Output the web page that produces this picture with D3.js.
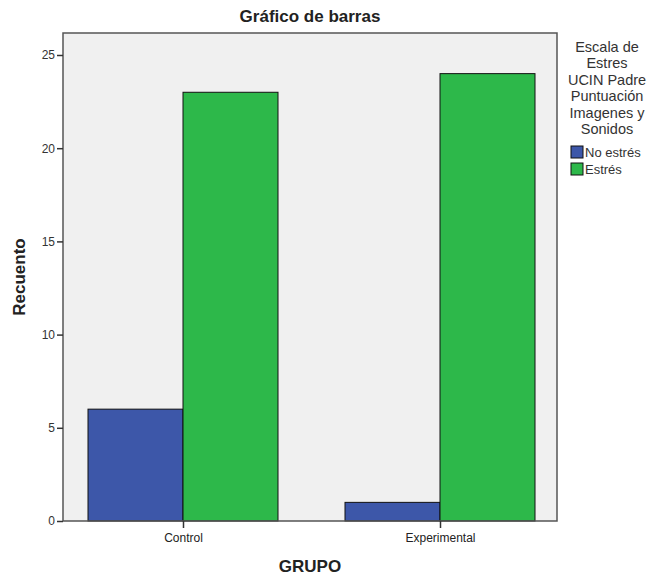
<!DOCTYPE html>
<html>
<head>
<meta charset="utf-8">
<script src="https://cdn.jsdelivr.net/npm/d3@7"></script>
<style>
  body { margin: 0; background: #fff; }
  text { font-family: "Liberation Sans", Arial, sans-serif; fill: #222; }
</style>
</head>
<body>
<script>
// data
var groups = ["Control", "Experimental"];
var keys = ["No estrés", "Estrés"];
var noEstres = [6, 1];
var estres = [23, 24];
var yTicks = [0, 5, 10, 15, 20, 25];
var legendTitle = ["Escala de", "Estres", "UCIN Padre", "Puntuación", "Imagenes y", "Sonidos"];

var colors = ["#3d57a9", "#2db84a"];

var data = groups.map(function(g, i) {
  return { group: g, values: [noEstres[i], estres[i]] };
});

var margin = {top: 33, right: 93, bottom: 56, left: 63},
    width = 650 - margin.left - margin.right,
    height = 577 - margin.top - margin.bottom;

var svg = d3.select("body").append("svg")
  .attr("width", 650)
  .attr("height", 577);

var g = svg.append("g")
  .attr("transform", "translate(" + margin.left + "," + margin.top + ")");

// scales
var x = d3.scalePoint().domain(groups).range([120, 377]);
var xSub = d3.scaleBand().domain(keys).range([-95, 95]);
var y = d3.scaleLinear().domain([0, 26.18]).range([height, 0]);

// plot background
g.append("rect")
  .attr("width", width)
  .attr("height", height)
  .style("fill", "#f0f0f0");

// bars
var grp = g.selectAll(".grp")
  .data(data)
  .enter().append("g")
  .attr("class", "grp")
  .attr("transform", function(d) { return "translate(" + x(d.group) + ",0)"; });

grp.selectAll("rect")
  .data(function(d) { return d.values.map(function(v, i) { return {key: keys[i], value: v, i: i}; }); })
  .enter().append("rect")
  .attr("x", function(d) { return xSub(d.key); })
  .attr("width", xSub.bandwidth())
  .attr("y", function(d) { return y(d.value); })
  .attr("height", function(d) { return height - y(d.value); })
  .style("fill", function(d) { return colors[d.i]; })
  .style("stroke", "#111")
  .style("stroke-width", 1);

// frame
g.append("rect")
  .attr("width", width)
  .attr("height", height)
  .style("fill", "none")
  .style("stroke", "#555")
  .style("stroke-width", 1.5);

// y axis
var yAxis = g.append("g")
  .call(d3.axisLeft(y).tickValues(yTicks).tickSize(6).tickPadding(2));
yAxis.select(".domain").remove();
yAxis.selectAll("line").style("stroke", "#333").style("stroke-width", 1.5);
yAxis.selectAll("text").style("font-size", "12px").style("fill", "#333")
  .style("font-family", "'Liberation Sans', Arial, sans-serif");

// x axis
var xAxis = g.append("g")
  .attr("transform", "translate(0," + height + ")")
  .call(d3.axisBottom(x).tickSize(7).tickPadding(5));
xAxis.select(".domain").remove();
xAxis.selectAll("line").style("stroke", "#333").style("stroke-width", 1.5);
xAxis.selectAll("text").style("font-size", "12px").style("fill", "#222")
  .style("font-family", "'Liberation Sans', Arial, sans-serif");

// title and axis labels
svg.append("text")
  .attr("x", margin.left + width / 2)
  .attr("y", 22)
  .attr("text-anchor", "middle")
  .style("font-size", "17px")
  .style("font-weight", "bold")
  .text("Gráfico de barras");

svg.append("text")
  .attr("x", margin.left + width / 2)
  .attr("y", 572)
  .attr("text-anchor", "middle")
  .style("font-size", "17px")
  .style("font-weight", "bold")
  .text("GRUPO");

svg.append("text")
  .attr("transform", "translate(25," + (margin.top + height / 2) + ") rotate(-90)")
  .attr("text-anchor", "middle")
  .style("font-size", "17px")
  .style("font-weight", "bold")
  .text("Recuento");

// legend
var legend = svg.append("g").attr("transform", "translate(607,0)");
legend.selectAll(".lt")
  .data(legendTitle)
  .enter().append("text")
  .attr("class", "lt")
  .attr("x", 0)
  .attr("y", function(d, i) { return 52 + i * 16.4; })
  .attr("text-anchor", "middle")
  .style("font-size", "14.5px")
  .style("fill", "#333")
  .text(function(d) { return d; });

var item = legend.selectAll(".li")
  .data(keys)
  .enter().append("g")
  .attr("class", "li")
  .attr("transform", function(d, i) { return "translate(-36," + (146 + i * 17) + ")"; });

item.append("rect")
  .attr("width", 12)
  .attr("height", 12)
  .style("fill", function(d, i) { return colors[i]; })
  .style("stroke", "#111");

item.append("text")
  .attr("x", 14)
  .attr("y", 11)
  .style("font-size", "13px")
  .style("fill", "#333")
  .text(function(d) { return d; });
</script>
</body>
</html>
